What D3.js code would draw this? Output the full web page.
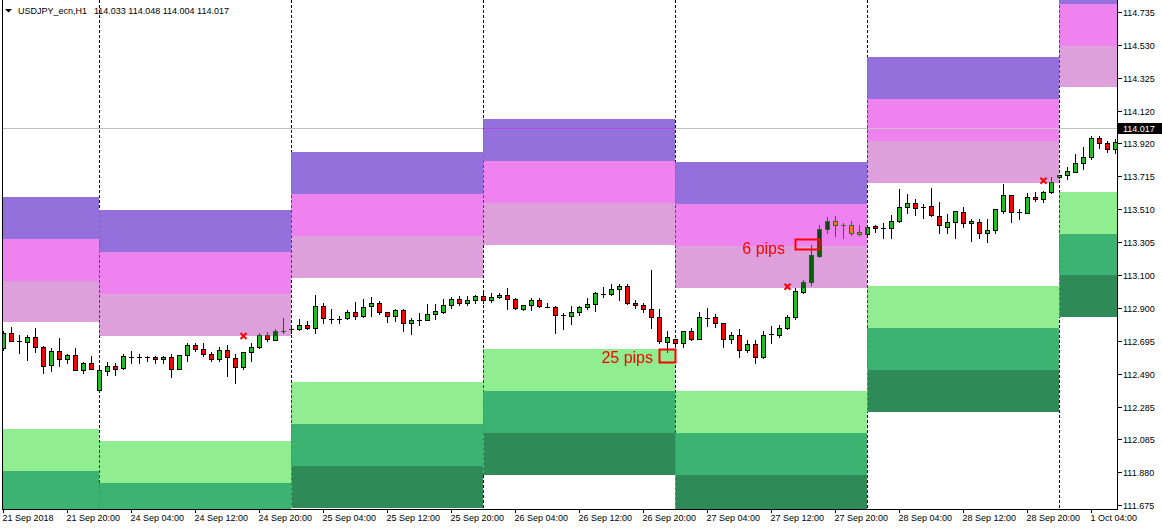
<!DOCTYPE html>
<html><head><meta charset="utf-8">
<script src="https://cdn.jsdelivr.net/npm/d3@7/dist/d3.min.js"></script>
<style>
html,body{margin:0;padding:0;background:#fff;}
svg{display:block;font-family:"Liberation Sans",Arial,sans-serif;}
</style></head><body>
<svg id="chart" width="1162" height="528"></svg>
<script>
// ---------------- data ----------------
const symbolTitle = "USDJPY_ecn,H1";
const titleOHLC = "114.033 114.048 114.004 114.017";
const bidPrice = 114.017;

const opens = [112.647,112.740,112.694,112.688,112.715,112.657,112.545,112.629,112.583,112.604,112.514,112.554,
112.390,112.508,112.535,112.525,112.595,112.595,112.595,112.595,112.579,112.595,112.521,112.604,112.668,112.641,112.610,112.579,112.635,112.585,112.533,112.622,112.653,112.730,112.699,112.755,
112.765,112.765,112.790,112.771,112.910,112.827,112.831,112.833,112.871,112.846,112.910,112.927,112.871,112.846,112.883,112.802,112.825,112.825,112.858,112.874,112.914,112.951,112.927,112.945,
112.972,112.945,112.964,112.978,112.951,112.889,112.914,112.945,112.905,112.902,112.852,112.846,112.871,112.902,112.920,112.986,112.984,113.013,113.034,112.927,112.914,112.889,112.840,112.688,
112.703,112.678,112.753,112.707,112.837,112.840,112.802,112.703,112.728,112.637,112.672,112.591,112.736,112.728,112.771,112.843,112.997,113.061,113.220,113.386,113.440,113.413,113.413,113.369,
113.355,113.407,113.392,113.392,113.436,113.523,113.548,113.526,113.531,113.467,113.402,113.430,113.492,113.423,113.430,113.361,113.380,113.498,113.597,113.492,113.489,113.585,113.572,113.616,
113.709,113.721,113.744,113.796,113.833,113.951,113.920,113.883];
const highs = [112.756,112.778,112.730,112.730,112.771,112.660,112.647,112.709,112.612,112.647,112.564,112.599,
112.533,112.564,112.556,112.612,112.632,112.612,112.597,112.597,112.597,112.612,112.606,112.682,112.682,112.682,112.626,112.653,112.668,112.612,112.624,112.682,112.744,112.750,112.769,112.833,
112.781,112.827,112.817,112.978,112.927,112.889,112.848,112.885,112.933,112.951,112.964,112.941,112.873,112.889,112.889,112.833,112.864,112.922,112.920,112.951,112.967,112.972,112.972,112.978,
112.992,112.992,112.989,113.021,112.958,112.916,112.958,112.958,112.927,112.910,112.864,112.910,112.910,112.958,112.997,113.026,113.046,113.046,113.046,112.947,112.930,113.133,112.889,112.755,
112.705,112.755,112.771,112.873,112.895,112.860,112.804,112.750,112.767,112.699,112.699,112.755,112.786,112.792,112.854,113.020,113.071,113.288,113.413,113.461,113.469,113.423,113.440,113.413,
113.401,113.413,113.423,113.475,113.636,113.605,113.572,113.543,113.641,113.556,113.481,113.500,113.526,113.450,113.450,113.450,113.512,113.667,113.599,113.510,113.610,113.618,113.626,113.709,
113.723,113.775,113.854,113.899,113.965,113.965,113.936,113.945];
const lows = [112.637,112.694,112.620,112.575,112.626,112.496,112.508,112.539,112.554,112.512,112.492,112.519,
112.388,112.481,112.481,112.517,112.554,112.558,112.570,112.558,112.558,112.471,112.519,112.570,112.632,112.599,112.570,112.570,112.475,112.430,112.517,112.570,112.651,112.694,112.697,112.744,
112.744,112.763,112.769,112.744,112.802,112.802,112.802,112.827,112.827,112.844,112.848,112.858,112.812,112.819,112.756,112.734,112.792,112.823,112.827,112.864,112.895,112.914,112.916,112.927,
112.927,112.935,112.958,112.889,112.889,112.887,112.885,112.902,112.902,112.744,112.765,112.796,112.852,112.889,112.881,112.964,112.978,112.947,112.925,112.895,112.874,112.771,112.678,112.626,
112.653,112.653,112.699,112.705,112.786,112.781,112.653,112.678,112.595,112.626,112.558,112.589,112.678,112.715,112.765,112.827,112.992,113.040,113.216,113.361,113.345,113.330,113.351,113.353,
113.353,113.371,113.330,113.330,113.434,113.485,113.475,113.454,113.471,113.361,113.365,113.334,113.399,113.315,113.334,113.309,113.361,113.485,113.433,113.448,113.487,113.564,113.556,113.614,
113.707,113.696,113.742,113.759,113.821,113.889,113.866,113.861];
const closes = [112.740,112.694,112.694,112.715,112.657,112.539,112.629,112.583,112.604,112.514,112.554,112.521,
112.511,112.535,112.521,112.598,112.595,112.595,112.595,112.579,112.595,112.521,112.604,112.668,112.641,112.610,112.579,112.635,112.591,112.533,112.622,112.653,112.730,112.703,112.755,112.755,
112.765,112.790,112.771,112.910,112.833,112.827,112.831,112.871,112.846,112.902,112.927,112.871,112.846,112.883,112.802,112.821,112.825,112.860,112.877,112.916,112.951,112.927,112.945,112.972,
112.945,112.964,112.978,112.951,112.895,112.914,112.945,112.910,112.905,112.852,112.852,112.871,112.902,112.920,112.989,112.986,113.013,113.034,112.927,112.914,112.889,112.840,112.691,112.715,
112.678,112.753,112.707,112.843,112.837,112.802,112.703,112.728,112.637,112.672,112.591,112.728,112.736,112.771,112.840,113.001,113.057,113.226,113.386,113.440,113.411,113.413,113.365,113.355,
113.399,113.392,113.392,113.436,113.523,113.548,113.516,113.526,113.473,113.411,113.430,113.498,113.423,113.436,113.361,113.380,113.510,113.597,113.492,113.492,113.585,113.572,113.616,113.678,
113.721,113.750,113.800,113.837,113.951,113.924,113.883,113.930];

// daily zones (bar index of each day's first hour, top of upper and lower zones)
const dayStarts = [-12, 12, 36, 60, 84, 108, 132];
const upperTops = [113.588, 113.506, 113.866, 114.071, 113.804, 114.456, 115.047];
const lowerTops = [112.146, 112.072, 112.438, 112.643, 112.382, 113.034, 113.620];
const bandSize = 0.26;
const upperColors = ["#9370DB", "#EE82EE", "#DDA0DD"];
const lowerColors = ["#90EE90", "#3CB371", "#2E8B57"];

const priceTicks = [114.735,114.530,114.325,114.120,113.920,113.715,113.510,113.305,113.100,112.900,112.695,112.490,112.285,112.085,111.880,111.675];
const timeTickIdx = [0,8,16,24,32,40,48,56,64,72,80,88,96,104,112,120,128,136];
const timeTickLabels = ["21 Sep 2018","21 Sep 20:00","24 Sep 04:00","24 Sep 12:00","24 Sep 20:00","25 Sep 04:00","25 Sep 12:00","25 Sep 20:00","26 Sep 04:00","26 Sep 12:00","26 Sep 20:00","27 Sep 04:00","27 Sep 12:00","27 Sep 20:00","28 Sep 04:00","28 Sep 12:00","28 Sep 20:00","1 Oct 04:00"];

// annotations
const pipBoxes = [
  {from: 82, to: 84, top: 112.645, bottom: 112.562, label: "25 pips", labelBar: 81.25, labelPrice: 112.556},
  {from: 99, to: 102, top: 113.323, bottom: 113.267, label: "6 pips", labelBar: 97.75, labelPrice: 113.232}
];
const crossBars = [30, 98, 130];
const crossPrices = [112.724, 113.030, 113.688];

// ---------------- drawing ----------------
const W = 1162, H = 528;
const plotL = 2, plotR = 1117, plotT = 0, plotB = 509;
const svg = d3.select("#chart");
svg.append("rect").attr("width", W).attr("height", H).attr("fill", "#fff");

const x = d3.scaleLinear().domain([0, 1]).range([3, 11]);
const y = d3.scaleLinear().domain([111.675, 114.735]).range([505, 12]);

svg.append("defs").append("clipPath").attr("id", "plotClip")
  .append("rect").attr("x", plotL).attr("y", plotT).attr("width", plotR - plotL).attr("height", plotB - plotT);

const plot = svg.append("g").attr("clip-path", "url(#plotClip)");
plot.append("rect").attr("x", plotL).attr("y", plotT).attr("width", plotR - plotL).attr("height", plotB - plotT).attr("fill", "#fff");

// day separators
dayStarts.slice(1).forEach(d => {
  plot.append("line").attr("x1", x(d) + 0.5).attr("x2", x(d) + 0.5)
    .attr("y1", plotT).attr("y2", plotB)
    .attr("stroke", "#000").attr("stroke-width", 1).attr("stroke-dasharray", "3,2");
});

// bid line
const bidY = Math.round(y(bidPrice)) + 0.5;
plot.append("line").attr("x1", plotL).attr("x2", plotR).attr("y1", bidY).attr("y2", bidY)
  .attr("stroke", "#C0C0C0").attr("stroke-width", 1);

// candles
const bars = d3.range(opens.length).map(i => ({i, o: opens[i], h: highs[i], l: lows[i], c: closes[i]}));
const cg = plot.append("g");
bars.forEach(b => {
  const cx = Math.round(x(b.i));
  cg.append("line").attr("x1", cx + 0.5).attr("x2", cx + 0.5)
    .attr("y1", Math.round(y(b.h))).attr("y2", Math.round(y(b.l)) + 1)
    .attr("stroke", "#000").attr("stroke-width", 1);
  if (b.o === b.c) {
    const yy = Math.round(y(b.o)) + 0.5;
    cg.append("line").attr("x1", cx - 2).attr("x2", cx + 3).attr("y1", yy).attr("y2", yy)
      .attr("stroke", "#000").attr("stroke-width", 1);
  } else {
    const t = Math.round(y(Math.max(b.o, b.c))), bt = Math.round(y(Math.min(b.o, b.c)));
    cg.append("rect").attr("x", cx - 1.5).attr("y", t + 0.5).attr("width", 4).attr("height", Math.max(1, bt - t))
      .attr("fill", b.c > b.o ? "#22C122" : "#FF0000").attr("stroke", "#000").attr("stroke-width", 1);
  }
});

// zones (XOR-like drawing, emulated with difference blending of the inverted colour)
const inv = c => { const r = d3.rgb(c); return d3.rgb(255 - r.r, 255 - r.g, 255 - r.b); };
const xor = (a, b) => d3.rgb(a.r ^ b.r, a.g ^ b.g, a.b ^ b.b).formatHex();
const zg = plot.append("g");
const bidFix = [];
dayStarts.forEach((d, k) => {
  const x0 = x(d), x1 = x(d + 24);
  [[upperTops[k], upperColors], [lowerTops[k], lowerColors]].forEach(([top, cols]) => {
    cols.forEach((col, j) => {
      const yt = Math.round(y(top - j * bandSize)), yb = Math.round(y(top - (j + 1) * bandSize));
      zg.append("rect").attr("x", x0).attr("y", yt).attr("width", x1 - x0).attr("height", yb - yt)
        .attr("fill", inv(col).formatHex()).style("mix-blend-mode", "difference").attr("shape-rendering", "crispEdges");
      if (bidY > yt && bidY < yb) bidFix.push({x0, x1, col: xor(d3.rgb("#C0C0C0"), inv(col))});
    });
  });
});
// bid line segments as they appear through the XOR-drawn zones
bidFix.forEach(s => {
  plot.append("line").attr("x1", s.x0 + 1).attr("x2", s.x1).attr("y1", bidY).attr("y2", bidY)
    .attr("stroke", s.col).attr("stroke-width", 1);
});

// annotations
const ag = plot.append("g");
pipBoxes.forEach(p => {
  const x0 = x(p.from), x1 = x(p.to);
  ag.append("rect").attr("x", x0 + 0.5).attr("y", Math.round(y(p.top)) + 0.5)
    .attr("width", x1 - x0).attr("height", Math.round(y(p.bottom)) - Math.round(y(p.top)))
    .attr("fill", "none").attr("stroke", "#FF0000").attr("stroke-width", 2);
  ag.append("text").attr("x", x(p.labelBar)).attr("y", y(p.labelPrice))
    .attr("text-anchor", "end").attr("font-size", 16).attr("fill", "#FF0000").text(p.label);
});
crossBars.forEach((b, k) => {
  const cx = x(b) + 0.5, cy = y(crossPrices[k]);
  ag.append("path").attr("d", `M${cx-3},${cy-3}L${cx+3},${cy+3}M${cx+3},${cy-3}L${cx-3},${cy+3}`)
    .attr("stroke", "#FF0000").attr("stroke-width", 2);
});

// frame
svg.append("line").attr("x1", plotL + 0.5).attr("x2", plotL + 0.5).attr("y1", plotT).attr("y2", plotB).attr("stroke", "#000");
svg.append("line").attr("x1", plotL).attr("x2", plotR + 1).attr("y1", plotB + 0.5).attr("y2", plotB + 0.5).attr("stroke", "#000");
svg.append("line").attr("x1", plotR + 0.5).attr("x2", plotR + 0.5).attr("y1", plotT).attr("y2", plotB + 1).attr("stroke", "#000");

// right price axis
const ra = svg.append("g").attr("font-size", 9).attr("fill", "#000");
priceTicks.forEach(p => {
  const yy = Math.round(y(p)) + 0.5;
  ra.append("line").attr("x1", plotR + 1).attr("x2", plotR + 5).attr("y1", yy).attr("y2", yy).attr("stroke", "#000");
  ra.append("text").attr("x", 1123).attr("y", yy).attr("dy", "0.35em").text(p.toFixed(3));
});
const by = Math.round(y(bidPrice));
svg.append("rect").attr("x", 1118).attr("y", by - 5).attr("width", 44).attr("height", 11).attr("fill", "#000");
svg.append("text").attr("x", 1123).attr("y", by + 0.5).attr("dy", "0.35em").attr("font-size", 9).attr("fill", "#fff").text(bidPrice.toFixed(3));

// bottom time axis
const ba = svg.append("g").attr("font-size", 9).attr("fill", "#000");
timeTickIdx.forEach((t, k) => {
  const xx = x(t) + 0.5;
  ba.append("line").attr("x1", xx).attr("x2", xx).attr("y1", plotB + 1).attr("y2", plotB + 4).attr("stroke", "#000");
  ba.append("text").attr("x", x(t) - 0.5).attr("y", 521).text(timeTickLabels[k]);
});

// title
svg.append("path").attr("d", "M5,9L12,9L8.5,12.5Z").attr("fill", "#000");
svg.append("text").attr("x", 18).attr("y", 14).attr("font-size", 9).attr("fill", "#000").text(symbolTitle);
svg.append("text").attr("x", 94).attr("y", 14).attr("font-size", 9).attr("fill", "#000").text(titleOHLC);
</script>
</body></html>
